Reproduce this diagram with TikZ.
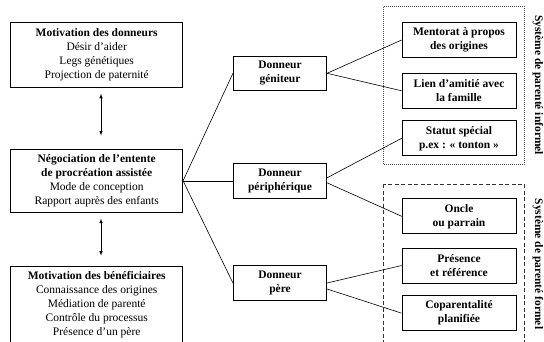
\documentclass[tikz,border=0pt]{standalone}
\usepackage{fontspec}
\setmainfont{Liberation Serif}
\usetikzlibrary{positioning}

\begin{document}
\begin{tikzpicture}[x=1pt,y=1pt,on grid,>=latex,
  box/.style={draw,line width=0.7pt,align=center,inner sep=0pt,font=\fontsize{11.5}{14}\selectfont},
  bigbox/.style={box,minimum width=172pt},
  midbox/.style={box,minimum width=93.4pt,minimum height=34.7pt,font=\fontsize{11.5}{14}\selectfont\bfseries},
  subbox/.style={box,minimum width=114pt,minimum height=35pt,font=\fontsize{11.5}{14}\selectfont\bfseries},
  side/.style={rotate=-90,font=\fontsize{11.5}{14}\selectfont\bfseries},
  link/.style={line width=0.6pt}]
   \useasboundingbox (0,0) rectangle (544,341);
   % left column
   \node[bigbox,minimum height=64.6pt] (mot_d) at (96.7,286) {\textbf{Motivation des donneurs}\\Désir d’aider\\Legs génétiques\\Projection de paternité};
   \node[bigbox,minimum height=63.7pt] (nego) [below=125.8pt of mot_d] {\textbf{Négociation de l’entente}\\\textbf{de procréation assistée}\\Mode de conception\\Rapport auprès des enfants};
   \node[bigbox,minimum height=78pt] (mot_b) [below=124.2pt of nego] {\textbf{Motivation des bénéficiaires}\\Connaissance des origines\\Médiation de parenté\\Contrôle du processus\\Présence d’un père};
   % donneurs
   \node[midbox] (d_per) [right=183.3pt of nego] {Donneur\\périphérique};
   \node[midbox] (d_gen) [above=107.5pt of d_per] {Donneur\\géniteur};
   \node[midbox] (d_pere) [below=102.2pt of d_per] {Donneur\\père};
   % parente
   \node[subbox] (ment) at (459,301) {Mentorat à propos\\des origines};
   \node[subbox] (lien) [below=50.8pt of ment] {Lien d’amitié avec\\la famille};
   \node[subbox] (statut) [below=47.5pt of lien] {Statut spécial\\p.ex : « tonton »};
   \node[subbox] (oncle) [below=78pt of statut] {Oncle\\ou parrain};
   \node[subbox] (pres) [below=49.2pt of oncle] {Présence\\et référence};
   \node[subbox] (copa) [below=47.7pt of pres] {Coparentalité\\planifiée};
   \draw[black!70,line width=0.6pt,dash pattern=on 0.8pt off 1.2pt] (383,177) rectangle (524.5,334.3);
   \draw[black!80,line width=0.6pt,dash pattern=on 4pt off 2.5pt] (383,157) rectangle (524.5,-5);
   \node[side] (informel) at (538,256) {Système de parenté informel};
   \node[side] (formel) at (538,77) {Système de parenté formel};
   \draw[<->,link,shorten <=6pt,shorten >=13pt] ([xshift=4.3pt]mot_d.south) -- ([xshift=4.3pt]nego.north);
   \draw[<->,link,shorten <=5.6pt,shorten >=10pt] ([xshift=4.3pt]nego.south) -- ([xshift=4.3pt]mot_b.north);
    \path[link]
    (nego.east) edge (d_gen.west)
                edge (d_per.west)
                edge (d_pere.west)
    (d_gen.east) edge (ment.west)
                 edge (lien.west)
    ([yshift=3pt]d_per.east) edge (statut.west)
    ([yshift=-2pt]d_per.east) edge (oncle.west)
    (d_pere.east) edge (pres.west)
    ([yshift=-6pt]d_pere.east) edge (copa.west);
\end{tikzpicture}
\end{document}
